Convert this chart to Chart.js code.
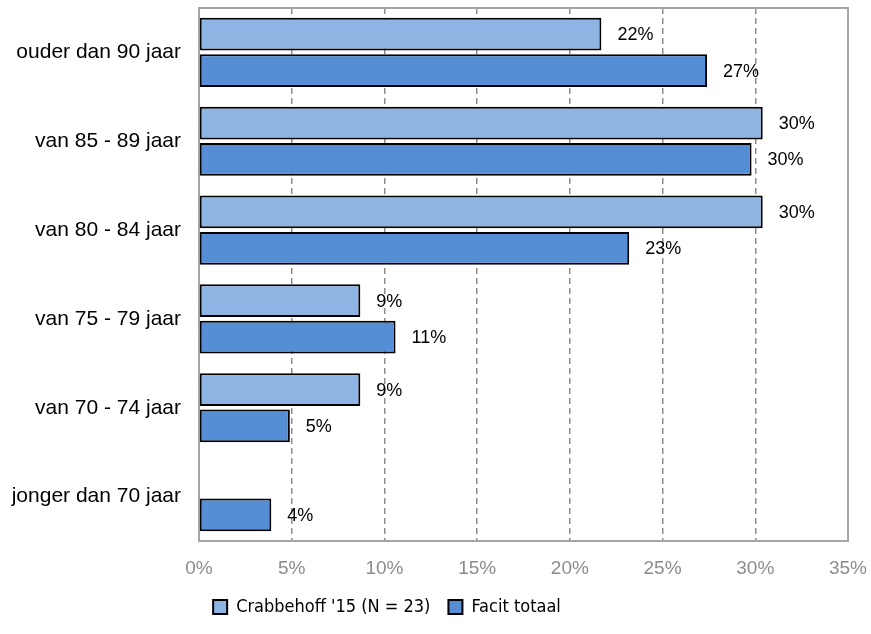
<!DOCTYPE html>
<html>
<head>
<meta charset="utf-8">
<script src="https://cdn.jsdelivr.net/npm/chart.js@4.4.1/dist/chart.umd.min.js"></script>
<style>
  html, body { margin: 0; padding: 0; background: #fff; }
  #wrap { width: 871px; height: 634px; }
</style>
</head>
<body>
<div id="wrap"><canvas id="ageChart" width="871" height="634"></canvas></div>
<script>
// categories, top to bottom
const ageGroups = ["ouder dan 90 jaar", "van 85 - 89 jaar", "van 80 - 84 jaar", "van 75 - 79 jaar", "van 70 - 74 jaar", "jonger dan 70 jaar"];
// percentages
const crabbehoff = [21.7, 30.4, 30.4, 8.7, 8.7, 0];
const facitTotaal = [27.4, 29.8, 23.2, 10.6, 4.9, 3.9];
const xTicks = [0, 5, 10, 15, 20, 25, 30, 35];

const narrowFont = "'Liberation Sans Narrow', 'DejaVu Sans Condensed', sans-serif";
const arial = "'Liberation Sans', Arial, sans-serif";

// value labels to the right of each bar
const barLabels = {
  id: "barLabels",
  afterDatasetsDraw(chart) {
    const ctx = chart.ctx;
    ctx.save();
    ctx.font = "18px " + arial;
    ctx.fillStyle = "#000";
    ctx.textAlign = "left";
    ctx.textBaseline = "middle";
    chart.data.datasets.forEach(function(ds, i) {
      chart.getDatasetMeta(i).data.forEach(function(bar, j) {
        const v = ds.data[j];
        if (!v) return;
        ctx.fillText(Math.round(v) + "%", bar.x + 16, bar.y + 1);
      });
    });
    ctx.restore();
  }
};

// grey frame around the plot
const plotFrame = {
  id: "plotFrame",
  beforeDatasetsDraw(chart) {
    const a = chart.chartArea;
    const ctx = chart.ctx;
    ctx.save();
    ctx.strokeStyle = "#a6a6a6";
    ctx.lineWidth = 2;
    ctx.strokeRect(a.left, a.top, a.right - a.left, a.bottom - a.top);
    ctx.restore();
  }
};

// legend sits a bit left of centre
const legendShift = {
  id: "legendShift",
  afterLayout(chart) {
    chart.legend.left -= 37;
    chart.legend.right -= 37;
  }
};

const ctx = document.getElementById("ageChart").getContext("2d");
new Chart(ctx, {
  type: "bar",
  data: {
    labels: ageGroups,
    datasets: [
      {
        label: "Crabbehoff '15 (N = 23)",
        data: crabbehoff,
        backgroundColor: "#8eb4e3",
        borderColor: "#000",
        borderWidth: 2,
        borderSkipped: false,
        categoryPercentage: 0.82,
        barPercentage: 0.9
      },
      {
        label: "Facit totaal",
        data: facitTotaal,
        backgroundColor: "#558ed5",
        borderColor: "#000",
        borderWidth: 2,
        borderSkipped: false,
        categoryPercentage: 0.82,
        barPercentage: 0.9
      }
    ]
  },
  options: {
    indexAxis: "y",
    responsive: false,
    animation: false,
    layout: { padding: { top: 8, right: 23, left: 0, bottom: 8 } },
    scales: {
      x: {
        min: 0,
        max: 35,
        afterBuildTicks(scale) { scale.ticks = xTicks.map(v => ({ value: v })); },
        afterFit(scale) {
          scale.height = 39;
          scale.paddingLeft = 0;
          scale.paddingRight = 0;
        },
        grid: {
          drawTicks: false,
          color: c => (c.tick.value === 0 || c.tick.value === 35) ? "rgba(0,0,0,0)" : "#8c8c8c",
          lineWidth: 1.5
        },
        border: { display: true, color: "#a6a6a6", width: 2, dash: [6, 4] },
        ticks: {
          padding: 16,
          color: "#8c8c8c",
          font: { family: arial, size: 19 },
          callback: v => v + "%"
        }
      },
      y: {
        afterFit(scale) {
          scale.width = 199;
          scale.paddingTop = 0;
          scale.paddingBottom = 0;
        },
        grid: { display: false, drawTicks: false },
        border: { display: true, color: "#000", width: 2 },
        ticks: {
          padding: 18,
          color: "#000",
          font: { family: arial, size: 21 }
        }
      }
    },
    plugins: {
      legend: {
        position: "bottom",
        labels: {
          boxWidth: 14,
          boxHeight: 14,
          padding: 18,
          color: "#000",
          font: { family: narrowFont, size: 18 }
        }
      },
      tooltip: { enabled: false }
    }
  },
  plugins: [plotFrame, barLabels, legendShift]
});
</script>
</body>
</html>
